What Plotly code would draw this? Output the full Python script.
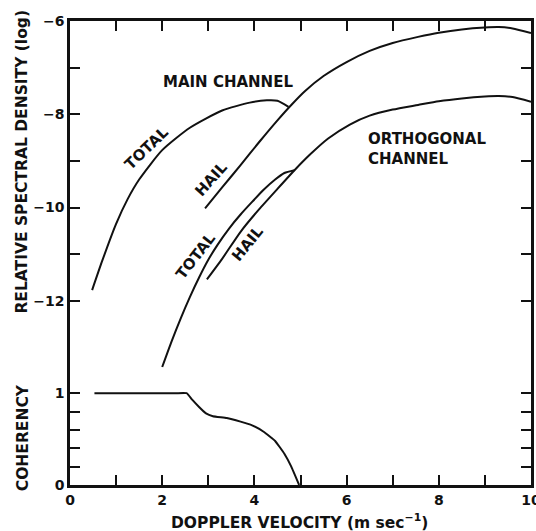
import plotly.graph_objects as go

# ---- data ----
main_total_x = [0.48, 0.7, 1.0, 1.25, 1.5, 2.0, 2.6, 3.3, 3.9, 4.27, 4.5, 4.74]
main_total_y = [-11.77, -11.14, -10.35, -9.82, -9.4, -8.77, -8.29, -7.92, -7.75, -7.70, -7.71, -7.84]

main_hail_x = [2.93, 3.3, 3.7, 4.1, 4.5, 4.8, 5.1, 5.5, 6.0, 6.5, 7.0, 7.55, 8.0, 8.5, 9.0, 9.3, 9.6, 10.0]
main_hail_y = [-10.02, -9.57, -9.09, -8.6, -8.13, -7.8, -7.5, -7.18, -6.88, -6.64, -6.47, -6.34, -6.25, -6.18, -6.14, -6.13, -6.16, -6.26]

orth_total_x = [2.0, 2.2, 2.4, 2.6, 2.8, 3.0, 3.2, 3.45, 3.7, 3.95, 4.2, 4.45, 4.65, 4.87]
orth_total_y = [-13.42, -12.88, -12.38, -11.92, -11.5, -11.12, -10.8, -10.45, -10.15, -9.88, -9.62, -9.4, -9.26, -9.2]

orth_hail_x = [2.97, 3.3, 3.7, 4.1, 4.5, 4.87, 5.2, 5.6, 6.07, 6.5, 7.0, 7.55, 8.0, 8.5, 9.0, 9.3, 9.6, 10.0]
orth_hail_y = [-11.54, -11.1, -10.52, -10.04, -9.6, -9.2, -8.87, -8.52, -8.22, -8.03, -7.9, -7.8, -7.72, -7.66, -7.62, -7.61, -7.63, -7.73]

coh_x = [0.53, 1.5, 2.3, 2.53, 2.65, 2.8, 2.95, 3.1, 3.4, 3.7, 3.95, 4.2, 4.45, 4.65, 4.8, 4.97]
coh_y = [1.0, 1.0, 1.0, 1.0, 0.93, 0.85, 0.78, 0.75, 0.73, 0.69, 0.65, 0.58, 0.48, 0.34, 0.2, 0.0]

x_ticks = list(range(0, 11))
x_ticktext = ["0", "", "2", "", "4", "", "6", "", "8", "", "10"]
y_ticks = [-6, -7, -8, -9, -10, -11, -12]
y_ticktext = ["\u22126", "", "\u22128", "", "\u221210", "", "\u221212"]
c_ticks = [0, 0.2, 0.4, 0.6, 0.8, 1.0]
c_ticktext = ["0", "", "", "", "", "1"]

FONT = "DejaVu Sans"
INK = "#111111"

fig = go.Figure()
line = dict(color=INK, width=2, shape="spline", smoothing=0.6)
for xs, ys in [(main_total_x, main_total_y), (main_hail_x, main_hail_y),
               (orth_total_x, orth_total_y), (orth_hail_x, orth_hail_y)]:
    fig.add_trace(go.Scatter(x=xs, y=ys, mode="lines", line=line, showlegend=False, hoverinfo="skip"))
fig.add_trace(go.Scatter(x=coh_x, y=coh_y, mode="lines", yaxis="y2",
                         line=dict(color=INK, width=2, shape="spline", smoothing=0.3),
                         showlegend=False, hoverinfo="skip"))

axis_common = dict(showline=True, linecolor=INK, linewidth=2.5, ticks="inside", ticklen=10,
                   tickwidth=2, tickcolor=INK, mirror="ticks", showgrid=False, zeroline=False,
                   automargin=False, ticklabeloverflow="allow",
                   tickfont=dict(family=FONT, size=14, color=INK, weight="bold"))

fig.update_layout(
    width=536, height=531,
    margin=dict(l=70, r=5, t=21, b=46),
    plot_bgcolor="white", paper_bgcolor="white",
    xaxis=dict(range=[0, 10], tickvals=x_ticks, ticktext=x_ticktext, **axis_common),
    yaxis=dict(range=[-15.95, -6], tickvals=y_ticks, ticktext=y_ticktext, **axis_common),
    yaxis2=dict(range=[0, 5.055], overlaying="y", side="left", tickvals=c_ticks,
                ticktext=c_ticktext, **axis_common),
)

tf = dict(family=FONT, size=15, color=INK, weight="bold")
tt = dict(family=FONT, size=15.5, color=INK, weight="bold")
anns = [
    dict(x=3.43, y=-7.31, text="MAIN CHANNEL", textangle=0),
    dict(x=1.67, y=-8.73, text="TOTAL", textangle=-44),
    dict(x=3.06, y=-9.38, text="HAIL", textangle=-48),
    dict(x=2.73, y=-11.04, text="TOTAL", textangle=-52),
    dict(x=3.87, y=-10.77, text="HAIL", textangle=-51),
]
for a in anns:
    fig.add_annotation(x=a["x"], y=a["y"], xref="x", yref="y", text=a["text"], textangle=a["textangle"],
                       xanchor="center", yanchor="middle", showarrow=False, font=tf)
fig.add_annotation(x=6.43, y=-8.74, xref="x", yref="y", text="ORTHOGONAL<br>CHANNEL", xanchor="left",
                   yanchor="middle", align="left", showarrow=False, font=tf)

# axis titles
fig.add_annotation(x=-0.103, y=0.696, xref="paper", yref="paper", text="RELATIVE SPECTRAL DENSITY (log)",
                   textangle=-90, xanchor="center", yanchor="middle", showarrow=False, font=tt)
fig.add_annotation(x=-0.103, y=0.102, xref="paper", yref="paper", text="COHERENCY",
                   textangle=-90, xanchor="center", yanchor="middle", showarrow=False, font=tt)
fig.add_annotation(x=0.497, y=-0.079, xref="paper", yref="paper",
                   text="DOPPLER VELOCITY (m sec<sup>\u22121</sup>)", xanchor="center", yanchor="middle",
                   showarrow=False, font=tt)

fig.write_html("out.html", config={"displayModeBar": False},
               post_script="document.body.style.margin='0';document.body.style.overflow='hidden';")
